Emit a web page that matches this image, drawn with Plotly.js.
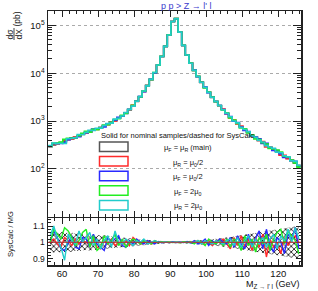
<!DOCTYPE html>
<html><head><meta charset="utf-8">
<script src="https://cdn.plot.ly/plotly-3.0.1.min.js"></script>
<style>html,body{margin:0;padding:0;background:#fff;}#chart{width:318px;height:291px;}</style>
</head><body><div id="chart"></div>
<script>
// ---- data ----
const binCenters = [56.7,57.7,58.7,59.7,60.7,61.7,62.7,63.7,64.7,65.7,66.7,67.7,68.7,69.7,70.7,71.7,72.7,73.7,74.7,75.7,76.7,77.7,78.7,79.7,80.7,81.7,82.7,83.7,84.7,85.7,86.7,87.7,88.7,89.7,90.7,91.7,92.7,93.7,94.7,95.7,96.7,97.7,98.7,99.7,100.7,101.7,102.7,103.7,104.7,105.7,106.7,107.7,108.7,109.7,110.7,111.7,112.7,113.7,114.7,115.7,116.7,117.7,118.7,119.7,120.7,121.7,122.7,123.7,124.7,125.7];
const binWidth = 1.0;
const xsecNominal = [295,316,331,355,380,407,427,457,490,525,562,603,646,692,741,794,851,933,1023,1148,1288,1479,1738,2089,2570,3236,4169,5495,7413,10230,14790,22390,36310,63100,120200,138000,72400,38000,24000,16220,11480,8510,6460,5010,3980,3160,2570,2090,1740,1445,1202,1023,891,759,661,575,501,447,398,355,316,282,257,234,209,186,166,148,132,117];
const ratioMuRHalf = [1.00,1.02,0.99,0.97,1.03,1.01,0.98,1.02,0.99,1.01, 1.00,0.98,1.02,0.97,0.96,1.01,0.99,1.02,0.98,1.00, 0.99,1.01,0.98,1.03,1.01,0.99,1.00,1.01,0.99,1.00, 1.004,0.998,1.002,0.999,1.001,1.000,0.998,1.003,1.001,0.999, 1.00,1.01,0.99,1.00,1.01,0.98,1.01,1.00,1.02,0.99, 0.96,1.03,0.98,1.04,0.97,1.02,0.95,1.03,0.97,1.05, 0.91,1.02,0.97,1.00,0.93,1.03,0.98,1.02,1.04,1.00];
const ratioMuFHalf = [1.00,1.07,1.03,0.96,0.95,1.00,1.04,0.97,0.96,1.03, 1.02,0.97,1.05,0.99,0.97,0.95,1.03,1.00,1.02,1.04, 0.98,0.97,1.01,0.99,1.02,1.00,0.99,1.01,1.00,0.99, 1.005,0.997,1.002,0.998,1.003,0.999,1.002,0.998,1.005,0.996, 1.01,0.99,1.00,1.02,0.98,1.01,0.99,1.02,1.00,0.99, 1.03,0.97,1.04,0.99,0.96,1.05,0.98,1.03,1.07,0.96, 1.08,0.98,0.94,1.03,1.00,0.93,1.05,1.02,1.09,0.96];
const ratioMuFDouble = [1.00,1.08,1.05,1.02,1.09,1.07,1.03,0.98,1.01,1.06, 1.08,0.97,1.04,0.95,0.97,1.04,0.99,1.01,1.05,0.98, 1.02,0.97,1.00,1.02,1.01,0.99,1.01,1.00,0.99,1.01, 0.998,1.003,1.000,1.002,0.998,1.001,0.997,1.003,0.999,1.002, 0.99,1.01,1.00,0.98,1.02,1.00,0.99,1.01,0.98,1.02, 0.97,1.02,1.00,0.95,1.04,0.98,1.02,0.94,1.03,0.99, 1.05,0.95,1.02,1.06,1.08,0.99,1.07,1.04,1.01,0.93];
const ratioMuRDouble = [1.04,1.10,1.02,0.97,0.89,1.05,1.01,0.99,1.07,1.00, 1.03,1.06,0.98,1.02,0.96,1.01,1.04,0.97,1.07,1.00, 0.99,1.02,1.00,0.98,1.01,1.00,1.02,0.99,1.00,1.01, 1.001,0.999,1.002,0.998,1.001,1.000,0.999,1.002,1.000,0.998, 1.00,1.01,0.99,1.01,1.00,0.99,1.01,1.00,0.99,1.01, 1.02,0.98,1.03,0.97,1.01,1.04,0.97,1.02,0.99,1.03, 0.97,1.02,1.05,0.96,1.04,1.01,1.08,1.00,1.09,1.02];
const bandUp = [1.060,1.065,1.058,1.062,1.066,1.055,1.060,1.052,1.056,1.050, 1.048,1.052,1.045,1.047,1.040,1.043,1.038,1.036,1.034,1.031, 1.030,1.027,1.025,1.022,1.020,1.018,1.016,1.014,1.012,1.010, 1.009,1.008,1.006,1.005,1.004,1.004,1.005,1.006,1.007,1.008, 1.009,1.011,1.012,1.014,1.016,1.019,1.021,1.024,1.026,1.029, 1.032,1.036,1.040,1.043,1.047,1.050,1.054,1.058,1.061,1.065, 1.068,1.072,1.075,1.079,1.082,1.086,1.090,1.093,1.097,1.100];
const bandDown = [0.942,0.938,0.944,0.936,0.940,0.946,0.941,0.948,0.945,0.951, 0.953,0.949,0.955,0.952,0.960,0.957,0.962,0.964,0.967,0.969, 0.971,0.973,0.975,0.978,0.980,0.982,0.984,0.986,0.988,0.990, 0.991,0.992,0.994,0.995,0.996,0.996,0.995,0.994,0.993,0.992, 0.991,0.989,0.988,0.986,0.984,0.981,0.979,0.976,0.974,0.971, 0.968,0.964,0.960,0.957,0.953,0.950,0.946,0.942,0.939,0.935, 0.932,0.928,0.925,0.921,0.918,0.914,0.910,0.907,0.903,0.900];
const ratioNominal = binCenters.map(() => 1);
const seriesNames = ["\u03bc<sub>F</sub> = \u03bc<sub>R</sub> (main)", "\u03bc<sub>R</sub> = \u03bc<sub>0</sub>/2", "\u03bc<sub>F</sub> = \u03bc<sub>0</sub>/2", "\u03bc<sub>F</sub> = 2\u03bc<sub>0</sub>", "\u03bc<sub>R</sub> = 2\u03bc<sub>0</sub>"];
const seriesColors = ["#555555", "#ff2a2a", "#2a2aff", "#22ee22", "#22cccc"];
const seriesRatios = [ratioNominal, ratioMuRHalf, ratioMuFHalf, ratioMuFDouble, ratioMuRDouble];
const mainTickVals = [100, 1000, 10000, 100000];
const mainTickText = ["10<sup>2</sup>", "10<sup>3</sup>", "10<sup>4</sup>", "10<sup>5</sup>"];
const yTickVals = [0.9, 1, 1.1];
const yTickText = ["0.9", "1", "1.1"];
const xTickVals = [60, 70, 80, 90, 100, 110, 120];

// ---- geometry helpers (layout only) ----
const L = 48, R = 301, T = 11, B = 265;
const px = x => (x - L) / (R - L);
const py = y => (B - y) / (B - T);
const FONT = "Liberation Sans, Arial, sans-serif";
const logMinor = [];
[10, 100, 1000, 10000, 100000].forEach(d => { for (let m = 2; m <= 9; m++) logMinor.push(d * m); });

const traces = [];
traces.push({
  x: binCenters.concat(binCenters.slice().reverse()),
  y: bandUp.concat(bandDown.slice().reverse()),
  xaxis: 'x2', yaxis: 'y2', type: 'scatter', mode: 'lines', fill: 'toself',
  line: {width: 0, color: 'rgba(0,0,0,0)'},
  fillcolor: 'rgba(0,0,0,0)',
  fillpattern: {shape: 'x', size: 4, solidity: 0.4, fgcolor: '#222', bgcolor: 'rgba(255,255,255,0)'},
  hoverinfo: 'skip', showlegend: false
});
const edgesX = binCenters.map(c => c - binWidth / 2).concat([binCenters[binCenters.length - 1] + binWidth / 2]);
seriesRatios.forEach((r, k) => {
  const yv = xsecNominal.map((v, i) => v * r[i]);
  traces.push({
    x: edgesX, y: yv.concat([yv[yv.length - 1]]),
    xaxis: 'x', yaxis: 'y', type: 'scatter', mode: 'lines',
    line: {shape: 'hv', color: seriesColors[k], width: 1.6},
    showlegend: false, hoverinfo: 'skip'
  });
});
seriesRatios.forEach((r, k) => {
  if (k === 0) return;
  traces.push({
    x: binCenters, y: r, xaxis: 'x2', yaxis: 'y2', type: 'scatter', mode: 'lines',
    line: {color: seriesColors[k], width: 1.4}, showlegend: false, hoverinfo: 'skip'
  });
});

const axisCommon = {
  showline: true, linecolor: '#222', linewidth: 1.5, mirror: 'allticks',
  ticks: 'inside', tickcolor: '#222', zeroline: false, showgrid: false,
  tickfont: {family: FONT, size: 9.5, color: '#111'}
};

function ann(text, x, y, size, extra) {
  return Object.assign({text: text, x: px(x), y: py(y), xref: 'paper', yref: 'paper', xanchor: 'center', yanchor: 'middle',
    showarrow: false, font: {family: FONT, size: size, color: '#111'}}, extra || {});
}
const annotations = [
  ann("p p > Z \u2192 l' l", 186, 6, 9, {font: {family: FONT, size: 9, color: '#3a3acc'}}),
  ann("(pb)", 16.5, 19, 8.5, {textangle: -90}),
  ann("d\u03c3", 9.5, 34, 8.5, {textangle: -90}),
  ann("dX", 18.5, 34, 8.5, {textangle: -90}),
  ann("SysCalc / MG", 10, 234, 7.5, {textangle: -90}),
  ann("M<sub>Z \u2192 l' l</sub> (GeV)", 301, 284.5, 9, {xanchor: 'right'}),
  ann("Solid for nominal samples/dashed for SysCalc", 177, 135, 7.5)
];
const shapes = [
  {type: 'line', xref: 'paper', yref: 'paper', x0: px(14), x1: px(14), y0: py(28), y1: py(40), line: {color: '#111', width: 0.8}},
  {type: 'line', xref: 'x2 domain', yref: 'y2', x0: 0, x1: 1, y0: 1, y1: 1, line: {color: '#b03030', width: 1}}
];
seriesNames.forEach((n, i) => {
  const top = 142 + 14.6 * i;
  shapes.push({type: 'rect', xref: 'paper', yref: 'paper', x0: px(99.5), x1: px(128), y0: py(top), y1: py(top + 9.5), line: {color: seriesColors[i], width: 1.5}, fillcolor: 'rgba(0,0,0,0)'});
  annotations.push(ann(n, 188, top + 6, 7.5));
});

const layout = {
  width: 318, height: 291, paper_bgcolor: '#fff', plot_bgcolor: '#fff',
  margin: {l: L, r: 318 - R, t: T, b: 291 - B},
  showlegend: false,
  font: {family: FONT, color: '#111'},
  xaxis: Object.assign({}, axisCommon, {anchor: 'y', range: [56.1, 126.3], tickvals: xTickVals, showticklabels: false, ticklen: 6,
    minor: {dtick: 2, ticks: 'inside', ticklen: 3, tickcolor: '#222'}}),
  yaxis: Object.assign({}, axisCommon, {domain: [0.19, 1], type: 'log', range: [1.0, 5.3], tickvals: mainTickVals, ticktext: mainTickText, ticklen: 8,
    showgrid: true, gridcolor: '#aaa', griddash: 'dot', gridwidth: 1,
    tickfont: {family: FONT, size: 9.5, color: '#111'},
    minor: {tickvals: logMinor, ticks: 'inside', ticklen: 4, tickcolor: '#222', showgrid: false}}),
  xaxis2: Object.assign({}, axisCommon, {anchor: 'y2', range: [56.1, 126.3], tickvals: xTickVals, ticklen: 6, ticklabelstandoff: -1,
    minor: {dtick: 2, ticks: 'inside', ticklen: 3, tickcolor: '#222'}}),
  yaxis2: Object.assign({}, axisCommon, {domain: [0, 0.185], range: [0.861, 1.149], tickvals: yTickVals, ticktext: yTickText, ticklen: 5,
    tickfont: {family: FONT, size: 8.5, color: '#111'},
    minor: {dtick: 0.02, ticks: 'inside', ticklen: 2.5, tickcolor: '#222'}}),
  annotations: annotations,
  shapes: shapes
};
Plotly.newPlot('chart', traces, layout, {staticPlot: true, displayModeBar: false});
</script></body></html>
